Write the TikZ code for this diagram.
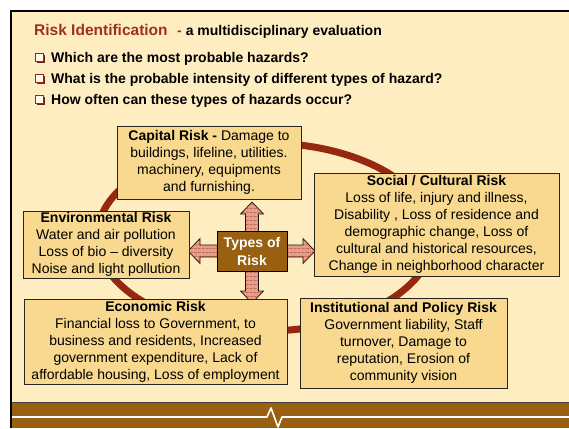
\documentclass[tikz,border=0pt]{standalone}
\usepackage{fontspec}
\setmainfont{Liberation Sans}
\usetikzlibrary{patterns.meta}

\definecolor{slidecream}{RGB}{255,237,194}
\definecolor{boxtan}{RGB}{248,217,143}
\definecolor{hubbrown}{RGB}{153,96,17}
\definecolor{ringred}{RGB}{150,40,16}
\definecolor{titlered}{RGB}{160,48,26}
\definecolor{arrowpink}{RGB}{226,160,140}
\definecolor{hatch}{RGB}{185,80,60}
\definecolor{edgegray}{RGB}{40,36,30}
\definecolor{checkred}{RGB}{150,40,20}

\begin{document}
\begin{tikzpicture}[x=1pt,y=-1pt,
  riskbox/.style={draw=edgegray, line width=0.9pt, fill=boxtan, inner sep=0pt,
    align=center, font=\fontsize{14}{17}\selectfont},
  hubbox/.style={draw=black, line width=0.9pt, fill=hubbrown, inner sep=0pt,
    align=center, text=white, font=\fontsize{14}{18}\selectfont\bfseries},
  blockarrow/.style={draw=black!85!brown, line width=0.7pt, line join=miter,
    preaction={fill=arrowpink},
    preaction={pattern={Lines[angle=0,distance=4pt,line width=0.5pt]}, pattern color=hatch},
    preaction={pattern={Lines[angle=90,distance=4pt,line width=0.5pt]}, pattern color=hatch}},
  ring/.style={draw=ringred, line width=7pt},
  bullettext/.style={anchor=base west, inner sep=0pt, font=\fontsize{14}{17}\selectfont\bfseries},
  checkbox/.style={draw=checkred, line width=0.8pt, fill=white!70!slidecream}
]
\useasboundingbox (0,0) rectangle (569,428);

% page, slide area and frame
\fill[white] (0,0) rectangle (569,428);
\fill[slidecream] (12,12) rectangle (569,402);
\fill[black] (10,10) rectangle (569,12);
\fill[black] (10,10) rectangle (12,428);

% footer band with pulse line
\fill[hubbrown] (12,402) rectangle (569,428);
\draw[black!75, line width=1pt] (12,402.5) -- (569,402.5);
\draw[white, line width=1.6pt, line join=round]
  (12,417) -- (267,417) -- (271,408) -- (278,427) -- (282,417) -- (569,417);

% heading
\node[anchor=base west, inner sep=0pt] (title) at (34,36)
  {\fontsize{15.5}{18}\selectfont\bfseries\color{titlered}Risk Identification};
\node[anchor=base west, inner sep=0pt] (subtitle) at (177,36)
  {\fontsize{14}{17}\selectfont\bfseries{\color{titlered}-} a multidisciplinary evaluation};

% question list
\foreach \yb/\txt [count=\i] in {62/Which are the most probable hazards?,
    83/What is the probable intensity of different types of hazard?,
    104/How often can these types of hazards occur?}{
  \fill[checkred!80!black] (37,\yb-7) rectangle (45,\yb+1);
  \draw[checkbox] (35,\yb-9) rectangle (43,\yb-1);
  \node[bullettext] (q\i) at (51,\yb) {\txt};
}

% surrounding ring
\draw[ring] (265,237) ellipse [x radius=168pt, y radius=94pt];

% block arrows out of the hub
\coordinate (hub) at (252,251);
\begin{scope}[shift={(hub)}]
  \draw[blockarrow] (-6.5,-15) -- (-6.5,-37) -- (-11.5,-37) -- (0,-49)
    -- (11.5,-37) -- (6.5,-37) -- (6.5,-15) -- cycle;
  \draw[blockarrow] (-6.5,15) -- (-6.5,40) -- (-11.5,40) -- (0,52)
    -- (11.5,40) -- (6.5,40) -- (6.5,15) -- cycle;
  \draw[blockarrow] (-30,-6) -- (-52,-6) -- (-52,-12.5) -- (-64,0)
    -- (-52,12.5) -- (-52,6) -- (-30,6) -- cycle;
  \draw[blockarrow] (30,-6) -- (51,-6) -- (51,-12.5) -- (63,0)
    -- (51,12.5) -- (51,6) -- (30,6) -- cycle;
\end{scope}

% risk categories
\node[riskbox, minimum width=184pt, minimum height=73pt] (capital) at (209,162.5)
  {\textbf{Capital Risk -} Damage to\\buildings, lifeline, utilities.\\machinery, equipments\\and furnishing.};
\node[riskbox, minimum width=166pt, minimum height=67pt] (environ) at (106,244.5)
  {\textbf{Environmental Risk}\\Water and air pollution\\Loss of bio – diversity\\Noise and light pollution};
\node[riskbox, minimum width=245pt, minimum height=103pt] (social) at (436.5,224.5)
  {\textbf{Social / Cultural Risk}\\Loss of life, injury and illness,\\Disability , Loss of residence and\\demographic change, Loss of\\cultural and historical resources,\\Change in neighborhood character};
\node[riskbox, minimum width=263pt, minimum height=85pt] (economic) at (155.5,341.5)
  {\textbf{Economic Risk}\\Financial loss to Government, to\\business and residents, Increased\\government expenditure, Lack of\\affordable housing, Loss of employment};
\node[riskbox, minimum width=207pt, minimum height=90pt] (institution) at (403.5,343)
  {\textbf{Institutional and Policy Risk}\\Government liability, Staff\\turnover, Damage to\\reputation, Erosion of\\community vision};

% hub
\node[hubbox, minimum width=70pt, minimum height=40pt] (types) at (hub) {Types of\\Risk};
\end{tikzpicture}
\end{document}
